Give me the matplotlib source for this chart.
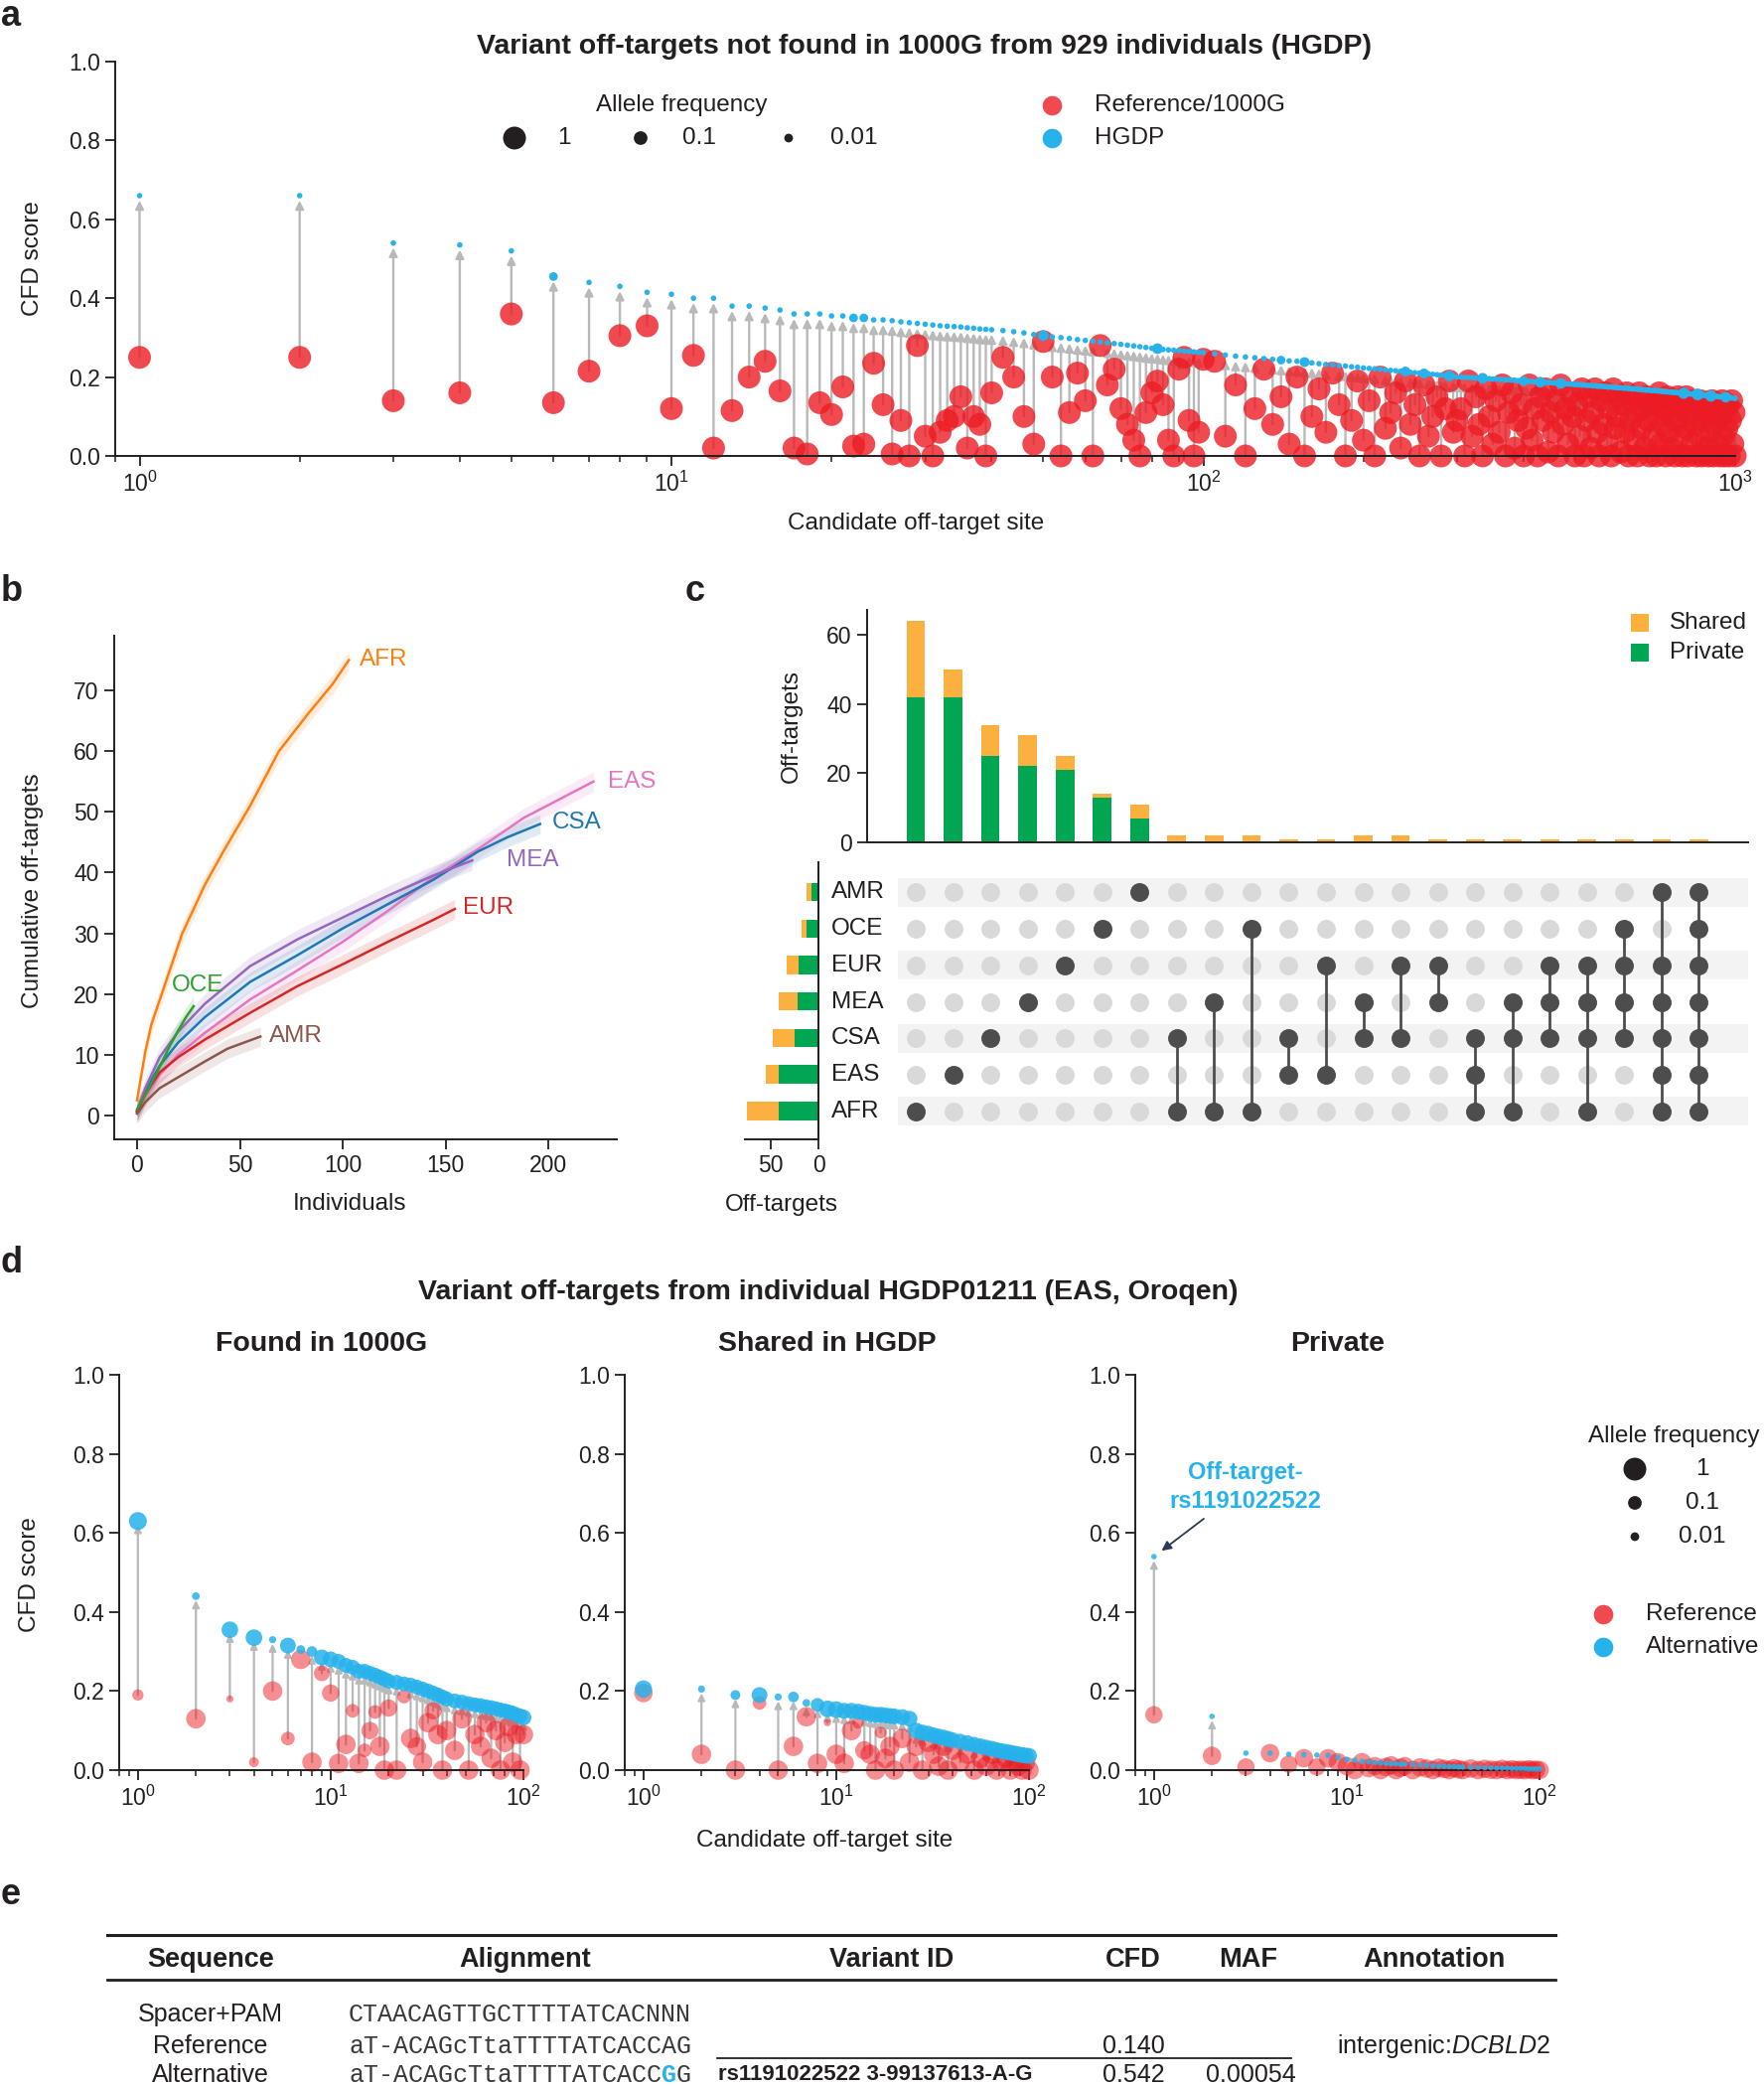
import numpy as np
import matplotlib.pyplot as plt
from matplotlib.ticker import LogLocator, NullFormatter

plt.rcParams['font.family'] = ['Liberation Sans', 'DejaVu Sans']
plt.rcParams['mathtext.fontset'] = 'custom'
plt.rcParams['mathtext.rm'] = 'Liberation Sans'
plt.rcParams['mathtext.it'] = 'Liberation Sans:italic'
plt.rcParams['mathtext.default'] = 'regular'

# ---------------- panel a : variant off-targets not found in 1000G ----------------
a_site_head = list(range(1, 41))
a_alt_head = [.66, .66, .54, .535, .52, .455, .44, .43, .415, .41,
              .40, .40, .38, .38, .375, .37, .36, .36, .36, .355,
              .355, .35, .35, .345, .345, .343, .34, .338, .336, .334,
              .332, .33, .329, .328, .327, .325, .324, .322, .321, .32]
a_ref_head = [.25, .25, .14, .16, .36, .135, .215, .305, .33, .12,
              .255, .02, .115, .20, .24, .165, .02, .005, .135, .105,
              .175, .025, .03, .235, .13, .005, .09, .0, .28, .05,
              .0, .06, .09, .10, .15, .02, .10, .08, .0, .16]

a_site_mid = list(range(42, 101, 2))
a_alt_mid = [.318, .315, .312, .308, .305, .302, .300, .298, .295, .293,
             .291, .289, .287, .285, .283, .281, .279, .277, .275, .273,
             .272, .270, .269, .268, .267, .266, .265, .264, .263, .262]
a_ref_mid = [.25, .20, .10, .03, .29, .20, .0, .11, .21, .14,
             .0, .28, .18, .22, .12, .08, .04, .0, .11, .16,
             .19, .13, .04, .0, .22, .25, .09, .0, .06, .245]

a_site_late = list(range(105, 301, 5))
a_alt_late = [.259, .256, .253, .251, .249, .247, .245, .243, .241, .240,
              .238, .236, .234, .232, .231, .229, .228, .226, .225, .223,
              .222, .221, .220, .218, .217, .216, .215, .214, .212, .211,
              .210, .209, .208, .207, .206, .205, .204, .203, .202, .200]
a_ref_late = [.24, .05, .18, .0, .12, .22, .08, .15, .03, .20,
              .0, .10, .17, .06, .21, .13, .0, .09, .19, .04,
              .14, .0, .20, .07, .11, .16, .02, .19, .08, .13,
              .0, .18, .05, .10, .15, .0, .12, .19, .06, .09]

a_site_tail = list(range(305, 1001, 5))
a_alt_tail = [.200, .199, .199, .198, .198, .197, .197, .196, .196, .195,
              .195, .194, .194, .193, .193, .192, .192, .191, .191, .190,
              .190, .189, .189, .188, .188, .187, .187, .187, .186, .186,
              .185, .185, .184, .184, .184, .183, .183, .182, .182, .181,
              .181, .181, .180, .180, .179, .179, .179, .178, .178, .177,
              .177, .177, .176, .176, .175, .175, .175, .174, .174, .173,
              .173, .173, .172, .172, .172, .171, .171, .170, .170, .170,
              .169, .169, .169, .168, .168, .167, .167, .167, .166, .166,
              .166, .165, .165, .165, .164, .164, .163, .163, .163, .162,
              .162, .162, .161, .161, .161, .160, .160, .160, .159, .159,
              .159, .158, .158, .158, .157, .157, .157, .156, .156, .156,
              .155, .155, .155, .154, .154, .154, .153, .153, .153, .152,
              .152, .152, .151, .151, .151, .150, .150, .150, .150, .149,
              .149, .149, .148, .148, .148, .148, .147, .147, .147, .146]
a_ref_tail = [.12, .00, .19, .05, .15, .08, .00, .17, .10, .03,
              .14, .06, .18, .00, .11, .16, .02, .09, .13, .00,
              .07, .18, .04, .12, .00, .15, .09, .17, .01, .11,
              .06, .14, .00, .18, .08, .12, .03, .16, .10, .00,
              .13, .05, .17, .00, .09, .15, .02, .11, .17, .06,
              .00, .14, .08, .16, .03, .12, .00, .17, .07, .10,
              .15, .01, .13, .06, .16, .00, .09, .14, .04, .11,
              .00, .16, .07, .12, .02, .15, .09, .00, .13, .05,
              .14, .00, .10, .16, .03, .08, .12, .00, .15, .06,
              .11, .02, .14, .00, .09, .15, .05, .12, .00, .13,
              .07, .15, .00, .10, .13, .03, .14, .08, .00, .12,
              .05, .14, .00, .11, .09, .13, .02, .00, .12, .06,
              .14, .00, .08, .12, .03, .13, .00, .10, .14, .05,
              .00, .12, .07, .13, .00, .09, .14, .03, .11, .00]

# sites whose HGDP allele is more common than the usual singleton
a_big_site = [6, 22, 23, 50, 82, 140, 155, 240, 260, 290, 335, 400, 430, 470, 800, 850, 900, 960]
a_big_af = [.01, .01, .01, .03, .03, .01, .02, .02, .02, .03, .03, .02, .03, .03, .04, .05, .04, .03]
a_rare_af = 0.0005

# ---------------- panel b : cumulative off-targets per population ----------------
b_afr_x = [0, 2, 4, 7, 11, 16, 22, 33, 42, 55, 69, 84, 95, 103]
b_afr_y = [2.5, 6.5, 10.5, 15, 19, 24, 30, 38, 43.5, 51, 60, 66.5, 71, 75]
b_oce_x = [0, 5, 11, 16, 20, 24, 27.5]
b_oce_y = [1, 4, 8, 11.5, 14, 16.3, 18]
b_mea_x = [0, 4, 11, 20, 33, 55, 78, 100, 122, 144, 163]
b_mea_y = [0.8, 4.5, 9.6, 13.8, 18.4, 24.6, 29, 32.6, 36.2, 39.5, 42]
b_csa_x = [0, 4, 11, 20, 33, 55, 78, 100, 122, 144, 166, 180, 196]
b_csa_y = [0.7, 4, 8.2, 12, 16.2, 22, 26.4, 30.8, 34.8, 38.8, 43.5, 45.8, 48]
b_eas_x = [0, 4, 11, 20, 33, 55, 78, 100, 122, 144, 166, 188, 205, 222]
b_eas_y = [0.5, 3, 6.7, 10, 13.6, 19.1, 23.9, 28.6, 33.7, 39.2, 43.9, 49, 52, 55]
b_eur_x = [0, 4, 11, 20, 33, 55, 78, 100, 122, 144, 154.5]
b_eur_y = [0.6, 3.5, 7.1, 9.6, 12.5, 16.9, 21.3, 24.9, 28.6, 32.2, 34]
b_amr_x = [0, 4, 11, 22, 33, 44, 52, 60]
b_amr_y = [0.3, 2.2, 4.5, 6.7, 8.9, 11, 12, 13]

# ---------------- panel c : UpSet of population intersections ----------------
c_sets = ['AMR', 'OCE', 'EUR', 'MEA', 'CSA', 'EAS', 'AFR']
c_members = [['AFR'], ['EAS'], ['CSA'], ['MEA'], ['EUR'], ['OCE'], ['AMR'],
             ['CSA', 'AFR'], ['MEA', 'AFR'], ['OCE', 'AFR'], ['CSA', 'EAS'], ['EUR', 'EAS'],
             ['MEA', 'CSA'], ['EUR', 'CSA'], ['EUR', 'MEA'], ['CSA', 'EAS', 'AFR'],
             ['MEA', 'CSA', 'AFR'], ['EUR', 'MEA', 'CSA'], ['EUR', 'MEA', 'CSA', 'AFR'],
             ['OCE', 'EUR', 'MEA', 'CSA'], ['AMR', 'EUR', 'MEA', 'CSA', 'EAS', 'AFR'],
             ['AMR', 'OCE', 'EUR', 'MEA', 'CSA', 'EAS', 'AFR']]
c_total = [64, 50, 34, 31, 25, 14, 11, 2, 2, 2, 1, 1, 2, 2, 1, 1, 1, 1, 1, 1, 1, 1]
c_private = [42, 42, 25, 22, 21, 13, 7, 0, 0, 0, 0, 0, 0, 0, 0, 0, 0, 0, 0, 0, 0, 0]

# ---------------- panel d : one individual, HGDP01211 ----------------
d_site = list(range(1, 21)) + list(range(22, 41, 2)) + list(range(44, 101, 4))
d1_alt = [.63, .44, .355, .335, .33, .315, .305, .30, .285, .28,
          .275, .265, .26, .25, .25, .245, .24, .235, .23, .225,
          .222, .218, .215, .21, .205, .20, .195, .19, .185, .18,
          .175, .172, .168, .165, .163, .16, .158, .155, .152, .15, .147, .144, .14, .137, .133]
d1_alt_af = [.35, .005, .25, .25, .003, .2, .01, .03, .2, .2,
             .15, .15, .15, .15, .15, .15, .15, .15, .15, .15,
             .15, .15, .15, .15, .15, .15, .15, .15, .15, .15,
             .15, .15, .15, .15, .15, .15, .15, .15, .15, .15, .15, .15, .15, .15, .2]
d1_ref = [.19, .13, .18, .02, .20, .08, .28, .02, .245, .195,
          .017, .065, .15, .017, .05, .10, .147, .06, .0, .157,
          .0, .186, .08, .06, .02, .12, .15, .09, .0, .10,
          .05, .13, .0, .09, .06, .12, .03, .10, .0, .07, .11, .02, .09, .0, .09]
d1_ref_af = [.04, .5, .003, .02, .5, .1, .5, .5, .2, .3,
             .5, .5, .1, .5, .1, .3, .1, .5, .5, .3,
             .5, .1, .5, .4, .5, .5, .3, .5, .5, .5,
             .5, .5, .5, .5, .5, .5, .5, .5, .5, .5, .5, .5, .5, .5, .5]

d2_alt = [.205, .205, .19, .19, .185, .185, .17, .165, .155, .153,
          .15, .15, .148, .145, .142, .14, .14, .138, .137, .136,
          .134, .13, .10, .095, .092, .088, .085, .082, .079, .076,
          .072, .068, .064, .06, .057, .054, .051, .048, .046, .044, .042, .04, .038, .037, .036]
d2_alt_af = [.3, .003, .02, .2, .003, .03, .005, .1, .25, .25,
             .2, .2, .2, .2, .2, .2, .2, .2, .2, .2,
             .2, .2, .2, .2, .2, .2, .2, .2, .2, .2,
             .2, .2, .2, .2, .2, .2, .2, .2, .2, .2, .2, .2, .2, .2, .2]
d2_ref = [.195, .04, .0, .17, .0, .06, .135, .017, .12, .04,
          .017, .10, .12, .05, .04, .0, .095, .03, .06, .0,
          .08, .02, .06, .0, .07, .04, .01, .06, .0, .05,
          .02, .04, .0, .03, .01, .04, .0, .02, .03, .0, .02, .01, .0, .02, .0]
d2_ref_af = [.4, .5, .5, .1, .5, .5, .5, .5, .003, .5,
             .5, .5, .05, .4, .5, .5, .05, .5, .5, .5,
             .5, .5, .5, .5, .5, .5, .5, .5, .5, .5,
             .5, .5, .5, .5, .5, .5, .5, .5, .5, .5, .5, .5, .5, .5, .5]

d3_alt = [.54, .136, .043, .043, .04, .039, .038, .037, .032, .027,
          .025, .022, .021, .019, .018, .017, .016, .016, .015, .015,
          .014, .013, .012, .011, .010, .010, .009, .009, .008, .008,
          .007, .007, .006, .006, .005, .005, .005, .004, .004, .004, .004, .003, .003, .003, .003]
d3_alt_af = [0.0005] * 45
d3_ref = [.14, .036, .008, .043, .015, .03, .008, .03, .02, .01,
          .0, .02, .005, .01, .0, .008, .012, .0, .006, .01,
          .0, .007, .004, .0, .006, .003, .0, .005, .002, .0,
          .004, .0, .003, .001, .0, .003, .0, .002, .0, .001, .0, .002, .0, .001, .0]
d3_ref_af = [.3, .4, .3, .4, .3, .4, .3, .4, .4, .4,
             .4, .4, .4, .4, .4, .4, .4, .4, .4, .4,
             .4, .4, .4, .4, .4, .4, .4, .4, .4, .4,
             .4, .4, .4, .4, .4, .4, .4, .4, .4, .4, .4, .4, .4, .4, .4]

# ---------------- styling ----------------
W, H = 1776, 2100
INK = '#231f20'
RED = '#ED1C24'
BLUE = '#27B2EC'
STEM = '#b9b9b9'
ORANGE = '#FBB040'
GREEN = '#00A651'
DARK = '#4d4d4d'
LIGHT = '#d9d9d9'
BAND = '#f3f3f3'
FS_TICK = 16.5
FS_LAB = 17.5


def box(l, t, r, b):
    return [l / W, 1 - b / H, (r - l) / W, (b - t) / H]


def dot(af):
    # marker area (pt^2) for an allele frequency
    d = 3 + 20 * np.asarray(af, dtype=float) ** 0.27
    return (0.72 * d) ** 2


def style(ax):
    for s in ('top', 'right'):
        ax.spines[s].set_visible(False)
    for s in ('left', 'bottom'):
        ax.spines[s].set_linewidth(1.4)
        ax.spines[s].set_color(INK)
    ax.tick_params(which='major', length=7, width=1.3, pad=4, labelsize=FS_TICK,
                   color=INK, labelcolor=INK)
    ax.tick_params(which='minor', length=4, width=1.1, color=INK)


def logx(ax, lo, hi):
    ax.set_xscale('log')
    ax.set_xlim(lo, hi)
    ax.xaxis.set_major_locator(LogLocator(base=10, numticks=10))
    ax.xaxis.set_minor_locator(LogLocator(base=10, subs=np.arange(2, 10), numticks=20))
    ax.xaxis.set_minor_formatter(NullFormatter())
    ax.set_ylim(0, 1)
    ax.set_yticks(np.arange(0, 1.01, 0.2))
    ax.set_yticklabels([f'{v:.1f}' for v in np.arange(0, 1.01, 0.2)])


def stems(ax, x, lo, hi, lw, ms, shrink):
    for xi, a, b in zip(x, lo, hi):
        if b - a < 0.035:
            continue
        ax.annotate('', xy=(xi, b), xytext=(xi, a), zorder=1,
                    arrowprops=dict(arrowstyle='-|>', color=STEM, lw=lw, shrinkA=0,
                                    shrinkB=shrink, mutation_scale=ms))


fig = plt.figure(figsize=(W / 100, H / 100), dpi=100)

# ---- a ----
a_site = a_site_head + a_site_mid + a_site_late + a_site_tail
a_alt = np.array(a_alt_head + a_alt_mid + a_alt_late + a_alt_tail)
a_ref = np.array(a_ref_head + a_ref_mid + a_ref_late + a_ref_tail)
a_af = np.full(len(a_site), a_rare_af)
for s, f in zip(a_big_site, a_big_af):
    a_af[a_site.index(s)] = f

ax_a = fig.add_axes(box(116, 62, 1747, 459))
style(ax_a)
logx(ax_a, 0.9, 1000)
stems(ax_a, a_site, a_ref, a_alt, 1.7, 12, 3.5)
ax_a.scatter(a_site, a_ref, s=dot(1 - a_af), color=RED, alpha=0.8, lw=0, zorder=2, clip_on=False)
ax_a.scatter(a_site, a_alt, s=dot(a_af), color=BLUE, lw=0, zorder=3, clip_on=False)

# ---- b ----
ax_b = fig.add_axes(box(115, 640, 621, 1147))
style(ax_b)
ax_b.set_xlim(-11.1, 233.3)
ax_b.set_ylim(-3.93, 79.0)
ax_b.set_xticks([0, 50, 100, 150, 200])
ax_b.set_yticks(range(0, 71, 10))
b_curves = [('AFR', b_afr_x, b_afr_y, '#ff7f0e', (11, 0)),
            ('EAS', b_eas_x, b_eas_y, '#e377c2', (14, 0)),
            ('CSA', b_csa_x, b_csa_y, '#1f77b4', (12, 2)),
            ('MEA', b_mea_x, b_mea_y, '#9467bd', (35, 0)),
            ('EUR', b_eur_x, b_eur_y, '#d62728', (8, 1)),
            ('OCE', b_oce_x, b_oce_y, '#2ca02c', (-22, 21)),
            ('AMR', b_amr_x, b_amr_y, '#8c564b', (9, 0))]
for name, x, y, col, off in b_curves:
    y = np.array(y)
    ax_b.fill_between(x, y - 1.6, y + 1.6, color=col, alpha=0.14, lw=0)
    ax_b.plot(x, y, color=col, lw=1.8)
    ax_b.annotate(name, xy=(x[-1], y[-1]), xytext=off, textcoords='offset pixels',
                  color=col, fontsize=FS_LAB, ha='left', va='center')

# ---- c ----
ncol = len(c_total)
cols = np.arange(ncol)
shared = np.array(c_total) - np.array(c_private)
ax_ct = fig.add_axes(box(873, 614, 1760, 848))
style(ax_ct)
ax_ct.bar(cols, c_private, width=0.5, color=GREEN, lw=0)
ax_ct.bar(cols, shared, bottom=c_private, width=0.5, color=ORANGE, lw=0)
ax_ct.set_xlim(-1.305, 22.32)
ax_ct.set_ylim(0, 67.2)
ax_ct.set_yticks([0, 20, 40, 60])
ax_ct.set_xticks([])

ax_cm = fig.add_axes(box(873, 880, 1760, 1137))
ax_cm.set_xlim(-1.305, 22.32)
ax_cm.set_ylim(6.5, -0.5)
ax_cm.axis('off')
rows = np.arange(len(c_sets))
for r in rows[::2]:
    ax_cm.barh(r, 22.8, left=-0.48, height=0.79, color=BAND, lw=0, zorder=0)
gx, gy = np.meshgrid(cols, rows)
ax_cm.scatter(gx.ravel(), gy.ravel(), s=185, color=LIGHT, lw=0, zorder=1)
for j, mem in enumerate(c_members):
    ry = [c_sets.index(m) for m in mem]
    if len(ry) > 1:
        ax_cm.plot([j, j], [min(ry), max(ry)], color=DARK, lw=2, zorder=2)
    ax_cm.scatter([j] * len(ry), ry, s=185, color=DARK, lw=0, zorder=3)
for i, name in enumerate(c_sets):
    ax_cm.text(-2.26, i, name, ha='left', va='center', fontsize=FS_LAB, color=INK, clip_on=False)

set_total = np.array([sum(t for t, m in zip(c_total, c_members) if s in m) for s in c_sets])
set_priv = np.array([sum(p for p, m in zip(c_private, c_members) if s in m) for s in c_sets])
ax_cl = fig.add_axes(box(750, 868, 824, 1147))
ax_cl.barh(rows, set_priv, height=0.5, color=GREEN, lw=0)
ax_cl.barh(rows, set_total - set_priv, left=set_priv, height=0.5, color=ORANGE, lw=0)
ax_cl.set_xlim(77.5, 0)
ax_cl.set_ylim(6.78, -0.82)
ax_cl.spines['top'].set_visible(False)
ax_cl.spines['left'].set_visible(False)
for s in ('right', 'bottom'):
    ax_cl.spines[s].set_linewidth(1.4)
    ax_cl.spines[s].set_color(INK)
ax_cl.set_yticks([])
ax_cl.set_xticks([50, 0])
ax_cl.tick_params(axis='x', length=7, width=1.3, pad=4, labelsize=FS_TICK, color=INK, labelcolor=INK)

# ---- d ----
d_panels = [('Found in 1000G', 120, d1_alt, d1_alt_af, d1_ref, d1_ref_af),
            ('Shared in HGDP', 629, d2_alt, d2_alt_af, d2_ref, d2_ref_af),
            ('Private', 1143, d3_alt, d3_alt_af, d3_ref, d3_ref_af)]
d_axes = []
for title, left, alt, alt_af, ref, ref_af in d_panels:
    ax = fig.add_axes(box(left, 1384, left + 407, 1782))
    style(ax)
    logx(ax, 0.8, 100)
    stems(ax, d_site, ref, alt, 1.6, 10, 3)
    ax.scatter(d_site, ref, s=dot(ref_af), color=RED, alpha=0.5, lw=0, zorder=2, clip_on=False)
    ax.scatter(d_site, alt, s=dot(alt_af), color=BLUE, alpha=0.85, lw=0, zorder=3, clip_on=False)
    ax.set_title(title, fontsize=20.5, fontweight='bold', color=INK, pad=17)
    d_axes.append(ax)

d_axes[2].annotate('Off-target-\nrs1191022522', xy=(d_site[0], d3_alt[0]), xytext=(92, 70),
                   textcoords='offset pixels', ha='center', va='center', fontsize=17,
                   fontweight='bold', color=BLUE, linespacing=1.3,
                   arrowprops=dict(arrowstyle='-|>', color='#2b3a55', lw=1.3,
                                   shrinkA=4, shrinkB=7, mutation_scale=14))

# ---- overlay: letters, shared labels, legends, table ----
ov = fig.add_axes([0, 0, 1, 1], zorder=10)
ov.set_xlim(0, W)
ov.set_ylim(H, 0)
ov.axis('off')
ov.patch.set_visible(False)


def T(x, y, s, **kw):
    kw.setdefault('ha', 'center')
    kw.setdefault('va', 'center')
    kw.setdefault('fontsize', FS_LAB)
    kw.setdefault('color', INK)
    ov.text(x, y, s, **kw)


for letter, x, y in [('a', 1, 26), ('b', 1, 605), ('c', 690, 605), ('d', 1, 1281), ('e', 1, 1917)]:
    T(x, y, letter, ha='left', va='baseline', fontsize=26, fontweight='bold')

T(930, 47, 'Variant off-targets not found in 1000G from 929 individuals (HGDP)',
  fontsize=20.5, fontweight='bold')
T(834, 1301, 'Variant off-targets from individual HGDP01211 (EAS, Oroqen)',
  fontsize=20.5, fontweight='bold')

T(33, 260, 'CFD score', rotation=90)
T(922, 527, 'Candidate off-target site')
T(33, 897, 'Cumulative off-targets', rotation=90)
T(352, 1212, 'Individuals')
T(797, 731, 'Off-targets', rotation=90)
T(787, 1213, 'Off-targets')
T(30, 1585, 'CFD score', rotation=90)
T(830, 1853, 'Candidate off-target site')

# legend a
T(686, 106, 'Allele frequency')
ov.scatter([518, 645, 794], [139, 139, 139], s=dot([1, 0.1, 0.01]), color=INK, lw=0)
T(568, 139, '1')
T(704, 139, '0.1')
T(860, 139, '0.01')
ov.scatter([1059], [106], s=dot(0.5), color=RED, alpha=0.8, lw=0)
ov.scatter([1059], [139], s=dot(0.5), color=BLUE, lw=0)
T(1102, 106, 'Reference/1000G', ha='left')
T(1102, 139, 'HGDP', ha='left')

# legend c
ov.scatter([1651, 1651], [627, 657], s=(0.72 * 18) ** 2, marker='s', color=[ORANGE, GREEN], lw=0)
T(1681, 627, 'Shared', ha='left')
T(1681, 657, 'Private', ha='left')

# legend d
T(1599, 1446, 'Allele frequency', ha='left')
ov.scatter([1646, 1646, 1646], [1479, 1513, 1547], s=dot([1, 0.1, 0.01]), color=INK, lw=0)
T(1714, 1479, '1')
T(1714, 1513, '0.1')
T(1714, 1547, '0.01')
ov.scatter([1614], [1625], s=dot(0.5), color=RED, alpha=0.8, lw=0)
ov.scatter([1614], [1658], s=dot(0.5), color=BLUE, lw=0)
T(1657, 1625, 'Reference', ha='left')
T(1657, 1658, 'Alternative', ha='left')

# table e
ov.plot([108, 1566], [1948, 1948], color=INK, lw=2.2)
ov.plot([108, 1566], [1993, 1993], color=INK, lw=2.0)
ov.plot([722, 1300], [2072, 2072], color=INK, lw=1.3)
for name, x in [('Sequence', 212), ('Alignment', 529), ('Variant ID', 898),
                ('CFD', 1141), ('MAF', 1257), ('Annotation', 1444)]:
    T(x, 1973, name, fontsize=19.5, fontweight='bold')

MONO = 18
cw = 0.6001 * MONO * 100 / 72
mono = dict(ha='left', fontsize=MONO, family='Liberation Mono', color='#3a3a3a')
T(212, 2028, 'Spacer+PAM', fontsize=18)
T(351, 2028, 'CTAACAGTTGCTTTTATCACNNN', **mono)
T(212, 2060, 'Reference', fontsize=18)
T(351, 2060, 'aT-ACAGcTtaTTTTATCACCAG', **mono)
T(1141, 2060, '0.140', fontsize=18)
T(1346, 2060, r'intergenic:$\mathit{DCBLD2}$', ha='left', fontsize=18)
T(212, 2089, 'Alternative', fontsize=18)
T(351, 2089, 'aT-ACAGcTtaTTTTATCACC', **mono)
T(351 + 21 * cw, 2089, 'G', ha='left', fontsize=MONO, family='Liberation Mono',
  color=BLUE, fontweight='bold')
T(351 + 22 * cw, 2089, 'G', **mono)
T(723, 2089, 'rs1191022522 3-99137613-A-G', ha='left', fontsize=16, fontweight='bold')
T(1141, 2089, '0.542', fontsize=18)
T(1259, 2089, '0.00054', fontsize=18)

fig.savefig('out.png', dpi=100)
